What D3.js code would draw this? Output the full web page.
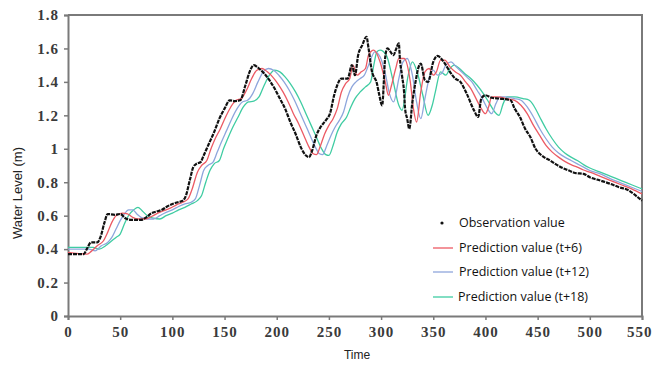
<!DOCTYPE html>
<html>
<head>
<meta charset="utf-8">
<script src="https://cdn.jsdelivr.net/npm/d3@7"></script>
<style>
  body { margin: 0; background: #fff; }
  svg { display: block; }
</style>
</head>
<body>
<div id="chart"></div>
<script>
// Tick labels
const xTicks = [0, 50, 100, 150, 200, 250, 300, 350, 400, 450, 500, 550];
const yTicks = [0, 0.2, 0.4, 0.6, 0.8, 1, 1.2, 1.4, 1.6, 1.8];

// Observation value [time, water level]
const observation = [
  [0,0.37],[15,0.37],[18,0.40],[22,0.44],[28,0.44],[31,0.47],[35,0.56],[38,0.61],[45,0.605],[50,0.61],
  [55,0.585],[60,0.575],[70,0.575],[75,0.59],[80,0.615],[85,0.625],[90,0.635],[95,0.655],[100,0.67],[105,0.68],
  [110,0.69],[113,0.72],[117,0.82],[120,0.89],[123,0.91],[127,0.92],[130,0.96],[135,1.03],[140,1.10],[145,1.18],
  [150,1.24],[155,1.29],[160,1.285],[165,1.29],[170,1.38],[174,1.46],[178,1.50],[183,1.48],[188,1.45],[193,1.41],
  [198,1.36],[203,1.30],[208,1.24],[213,1.16],[218,1.09],[223,1.01],[228,0.96],[231,0.95],[234,0.99],[238,1.08],
  [242,1.13],[247,1.17],[251,1.21],[255,1.32],[258,1.38],[262,1.42],[268,1.42],[272,1.50],[275,1.44],[278,1.56],
  [282,1.62],[286,1.67],[288,1.60],[291,1.47],[296,1.39],[298,1.33],[301,1.26],[304,1.55],[306,1.60],[312,1.56],
  [314,1.59],[317,1.63],[318,1.54],[320,1.44],[322,1.34],[323,1.24],[325,1.18],[327,1.12],[330,1.28],[333,1.40],
  [336,1.49],[338,1.51],[342,1.41],[345,1.40],[350,1.52],[354,1.555],[360,1.52],[366,1.46],[371,1.42],[376,1.40],
  [382,1.33],[389,1.23],[393,1.19],[396,1.30],[400,1.32],[406,1.305],[414,1.30],[424,1.29],[428,1.24],[433,1.19],
  [438,1.12],[443,1.07],[448,1.00],[452,0.97],[456,0.95],[462,0.93],[468,0.905],[474,0.885],[480,0.87],[486,0.855],
  [494,0.85],[500,0.83],[510,0.81],[520,0.79],[528,0.77],[536,0.755],[542,0.73],[548,0.70],[550,0.69]
];

// Prediction value (t+6)
const predT6 = [
  [0,0.38],[18,0.37],[22,0.385],[28,0.42],[34,0.45],[38,0.50],[42,0.56],[46,0.60],[52,0.615],[57,0.61],
  [62,0.59],[67,0.58],[74,0.58],[80,0.595],[86,0.615],[92,0.63],[98,0.645],[104,0.665],[110,0.68],[115,0.70],
  [119,0.76],[124,0.86],[128,0.90],[133,0.93],[137,1.00],[141,1.06],[146,1.12],[151,1.19],[156,1.25],[161,1.29],
  [166,1.30],[171,1.35],[176,1.42],[181,1.47],[186,1.48],[191,1.46],[196,1.43],[201,1.39],[206,1.34],[211,1.28],
  [216,1.21],[221,1.15],[226,1.08],[231,1.01],[235,0.97],[238,0.965],[242,1.02],[246,1.09],[250,1.14],[254,1.18],
  [258,1.24],[262,1.34],[266,1.39],[270,1.42],[273,1.50],[277,1.44],[281,1.46],[285,1.48],[288,1.56],[293,1.59],
  [299,1.52],[304,1.40],[307,1.32],[310,1.38],[314,1.48],[317,1.54],[322,1.54],[328,1.40],[331,1.24],[334,1.16],
  [338,1.34],[342,1.46],[346,1.48],[350,1.44],[353,1.46],[357,1.53],[361,1.53],[366,1.49],[371,1.46],[376,1.44],
  [381,1.40],[386,1.36],[391,1.30],[396,1.24],[400,1.21],[403,1.25],[406,1.31],[412,1.31],[420,1.30],[428,1.29],
  [434,1.26],[440,1.21],[446,1.14],[452,1.08],[458,1.02],[464,0.98],[470,0.95],[476,0.925],[482,0.905],[488,0.89],
  [494,0.873],[500,0.86],[510,0.835],[520,0.81],[530,0.785],[540,0.76],[550,0.73]
];

// Prediction value (t+12)
const predT12 = [
  [0,0.40],[20,0.40],[26,0.39],[32,0.42],[38,0.44],[42,0.47],[46,0.52],[50,0.57],[54,0.61],[58,0.635],
  [62,0.635],[66,0.61],[70,0.59],[76,0.58],[82,0.58],[88,0.60],[94,0.62],[100,0.635],[106,0.655],[112,0.67],
  [118,0.68],[122,0.70],[126,0.78],[130,0.87],[134,0.90],[139,0.92],[143,0.98],[147,1.04],[152,1.11],[157,1.18],
  [162,1.24],[167,1.28],[172,1.29],[177,1.33],[182,1.40],[187,1.46],[192,1.48],[197,1.47],[202,1.44],[207,1.40],
  [212,1.35],[217,1.29],[222,1.22],[227,1.15],[232,1.08],[237,1.01],[241,0.97],[244,0.965],[248,1.02],[252,1.08],
  [256,1.13],[260,1.17],[264,1.22],[268,1.31],[272,1.37],[276,1.40],[280,1.42],[284,1.44],[288,1.50],[294,1.58],
  [299,1.55],[304,1.45],[308,1.33],[312,1.28],[317,1.42],[321,1.52],[325,1.54],[330,1.44],[334,1.28],[338,1.18],
  [342,1.30],[346,1.42],[350,1.47],[354,1.44],[358,1.45],[362,1.50],[367,1.52],[372,1.49],[377,1.46],[382,1.43],
  [387,1.40],[392,1.35],[397,1.30],[402,1.24],[406,1.21],[410,1.27],[414,1.31],[420,1.31],[428,1.30],[434,1.29],
  [440,1.25],[446,1.19],[452,1.12],[458,1.06],[464,1.01],[470,0.975],[476,0.95],[482,0.93],[488,0.91],[494,0.89],
  [500,0.87],[510,0.85],[520,0.82],[530,0.795],[540,0.77],[550,0.745]
];

// Prediction value (t+18)
const predT18 = [
  [0,0.41],[24,0.41],[30,0.40],[36,0.42],[42,0.45],[46,0.47],[50,0.49],[54,0.55],[58,0.60],[63,0.635],
  [67,0.65],[71,0.63],[76,0.60],[82,0.585],[88,0.58],[94,0.60],[100,0.615],[106,0.635],[112,0.65],[118,0.67],
  [124,0.69],[128,0.72],[132,0.80],[136,0.87],[140,0.91],[145,0.93],[149,1.00],[153,1.06],[158,1.13],[163,1.19],
  [168,1.25],[173,1.28],[178,1.285],[183,1.31],[188,1.38],[193,1.44],[198,1.47],[203,1.46],[208,1.43],[213,1.39],
  [218,1.34],[223,1.28],[228,1.21],[233,1.14],[238,1.07],[243,1.00],[247,0.965],[250,0.96],[254,1.02],[258,1.10],
  [262,1.15],[267,1.19],[271,1.25],[275,1.30],[280,1.34],[285,1.37],[290,1.40],[293,1.50],[296,1.58],[299,1.59],
  [305,1.56],[311,1.42],[317,1.26],[320,1.23],[326,1.44],[330,1.52],[335,1.45],[340,1.32],[345,1.20],[349,1.26],
  [352,1.34],[357,1.46],[362,1.44],[366,1.48],[370,1.50],[375,1.48],[380,1.45],[386,1.42],[392,1.38],[398,1.33],
  [404,1.27],[409,1.22],[413,1.20],[417,1.27],[421,1.31],[428,1.31],[436,1.30],[442,1.29],[447,1.25],[452,1.19],
  [458,1.12],[464,1.06],[470,1.01],[476,0.975],[482,0.95],[488,0.93],[494,0.905],[500,0.885],[510,0.86],[520,0.835],
  [530,0.81],[540,0.785],[550,0.76]
];

const seriesNames = ["Observation value", "Prediction value (t+6)", "Prediction value (t+12)", "Prediction value (t+18)"];
const seriesColors = ["#111111", "#ec5a64", "#8ea6dc", "#3fcca2"];

const drawChart = () => {

  // Dimensions
  const width = 652;
  const height = 365;
  const margin = {top: 15, right: 10, bottom: 49, left: 68};

  const svg = d3.select("#chart")
    .append("svg")
      .attr("width", width)
      .attr("height", height);

  // Scales
  const xScale = d3.scaleLinear()
    .domain([0, 550])
    .range([margin.left, width - margin.right]);
  const yScale = d3.scaleLinear()
    .domain([0, 1.8])
    .range([height - margin.bottom, margin.top]);

  const axisColor = "#7a7a7a";

  // Frame (top and right)
  svg.append("path")
    .attr("d", `M${xScale(0)},${yScale(1.8)}H${xScale(550)}V${yScale(0)}`)
    .attr("fill", "none")
    .attr("stroke", axisColor)
    .attr("stroke-width", 2);

  // Axes
  const yAxis = svg.append("g")
    .attr("transform", `translate(${margin.left},0)`)
    .call(d3.axisLeft(yScale).tickValues(yTicks).tickFormat(d => d).tickSize(4).tickPadding(5));
  const xAxis = svg.append("g")
    .attr("transform", `translate(0,${height - margin.bottom})`)
    .call(d3.axisBottom(xScale).tickValues(xTicks).tickFormat(d => d).tickSize(4).tickPadding(6));

  [xAxis, yAxis].forEach(ax => {
    ax.attr("font-family", "Liberation Serif, serif")
      .attr("font-size", 15);
    ax.select(".domain").attr("stroke", axisColor).attr("stroke-width", 2);
    ax.selectAll(".tick line").attr("stroke", axisColor).attr("stroke-width", 1.5);
    ax.selectAll(".tick text")
      .attr("fill", "#3a3a3a")
      .attr("font-weight", "bold")
      .attr("letter-spacing", 1);
  });
  // last label sits against the right edge
  xAxis.selectAll(".tick text")
    .filter(d => d === 550)
    .attr("text-anchor", "end")
    .attr("x", 10);

  // Axis titles
  svg.append("text")
    .attr("transform", `translate(22,193) rotate(-90)`)
    .attr("text-anchor", "middle")
    .attr("fill", "#222")
    .attr("font-family", "Liberation Sans")
    .attr("font-size", 13)
    .text("Water Level (m)");
  svg.append("text")
    .attr("x", 357)
    .attr("y", 359)
    .attr("text-anchor", "middle")
    .attr("fill", "#222")
    .attr("font-family", "Liberation Sans")
    .attr("font-size", 12)
    .text("Time");

  // Lines
  const line = d3.line()
    .x(d => xScale(d[0]))
    .y(d => yScale(d[1]))
    .curve(d3.curveMonotoneX);

  const predictions = [predT6, predT12, predT18];
  svg.append("g")
    .attr("class", "predictions")
    .selectAll("path")
    .data(predictions.slice().reverse())
    .join("path")
      .attr("d", line)
      .attr("fill", "none")
      .attr("stroke", (d, i) => seriesColors[3 - i])
      .attr("stroke-width", 1.3);

  svg.append("path")
    .datum(observation)
    .attr("d", line)
    .attr("fill", "none")
    .attr("stroke", seriesColors[0])
    .attr("stroke-width", 2.2)
    .attr("stroke-dasharray", "4 1");

  // Legend
  const legendX = 433;
  const legendY = [223, 248, 272, 297];
  const legend = svg.append("g")
    .attr("class", "legend")
    .selectAll("g")
    .data(seriesNames)
    .join("g")
      .attr("transform", (d, i) => `translate(${legendX},${legendY[i]})`);
  legend.filter((d, i) => i === 0)
    .append("circle")
      .attr("cx", 9)
      .attr("cy", 0)
      .attr("r", 1.6)
      .attr("fill", seriesColors[0]);
  legend.filter((d, i) => i > 0)
    .append("line")
      .attr("x1", 0)
      .attr("x2", 20)
      .attr("stroke", (d, i) => seriesColors[i + 1])
      .attr("stroke-width", 1.3);
  legend.append("text")
    .attr("x", (d, i) => i === 3 ? 25 : 26)
    .attr("dy", "0.35em")
    .attr("fill", "#111")
    .attr("font-family", "Open Sans")
    .attr("font-size", 12.5)
    .text(d => d);
};

drawChart();
</script>
</body>
</html>
